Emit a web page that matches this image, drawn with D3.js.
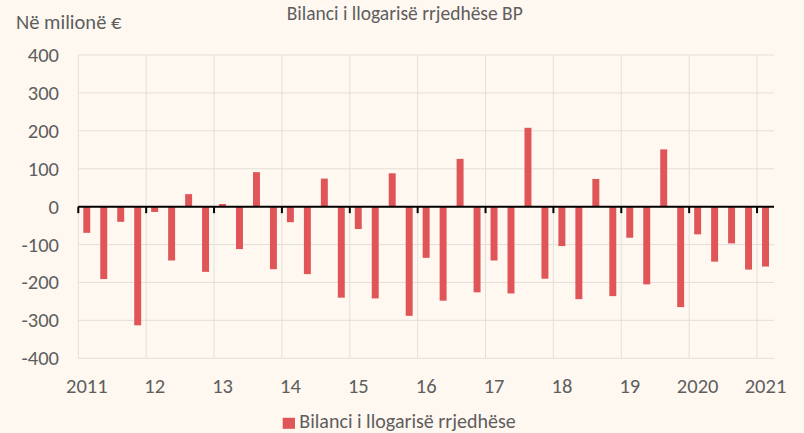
<!DOCTYPE html>
<html>
<head>
<meta charset="utf-8">
<script src="https://cdn.jsdelivr.net/npm/d3@7"></script>
<style>
  html, body { margin: 0; padding: 0; background: #FEF8F1; }
  svg { display: block; }
  text { font-family: Carlito, Lato, "Open Sans", sans-serif; fill: #5E5E5E; }
</style>
</head>
<body>
<svg id="chart" width="804" height="433"></svg>
<script>
// ---- data ----
const years = ["2011","2012","2013","2014","2015","2016","2017","2018","2019","2020","2021"];
const yearLabels = ["2011","12","13","14","15","16","17","18","19","2020","2021"];
const quarters = ["Q1","Q2","Q3","Q4"];
const values = [
  -69, -191, -40, -313,
  -14, -142, 33, -172,
  7, -112, 91, -165,
  -41, -178, 74, -240,
  -59, -242, 88, -288,
  -135, -248, 126, -226,
  -142, -229, 208, -190,
  -104, -244, 73, -236,
  -82, -205, 151, -265,
  -73, -145, -97, -166,
  -158
];
const yTicks = [400, 300, 200, 100, 0, -100, -200, -300, -400];
const titleText = "Bilanci i llogarisë rrjedhëse BP";
const unitText = "Në milionë €";
const seriesName = "Bilanci i llogarisë rrjedhëse";

(function () {
const categories = values.map((v, i) => years[Math.floor(i / 4)] + quarters[i % 4]);
const data = categories.map((c, i) => ({ cat: c, value: values[i] }));

// ---- layout ----
const svg = d3.select("#chart");
const pL = 78.3, pR = 774, pT = 55, pB = 358.3;
const barColor = "#E05557";
const gridColor = "#E3DFDA";
const fs = 20.5;

const x = d3.scaleBand().domain(categories).range([pL, pR])
  .paddingInner(0.59).paddingOuter(0.295);
const y = d3.scaleLinear().domain([-400, 400]).range([pB, pT]);
const gap = (x.step() - x.bandwidth()) / 2;
const boundary = c => x(c) - gap;

const yearStarts = years.map(yr => yr + "Q1");

// horizontal gridlines
svg.append("g").selectAll("line").data(yTicks.filter(t => t !== 0)).join("line")
  .attr("x1", pL).attr("x2", pR)
  .attr("y1", d => y(d)).attr("y2", d => y(d))
  .attr("stroke", gridColor).attr("stroke-width", 1);

// vertical gridlines
svg.append("g").selectAll("line").data(yearStarts).join("line")
  .attr("x1", d => boundary(d)).attr("x2", d => boundary(d))
  .attr("y1", pT).attr("y2", pB)
  .attr("stroke", gridColor).attr("stroke-width", 1);

// bars
svg.append("g").selectAll("rect").data(data).join("rect")
  .attr("x", d => x(d.cat))
  .attr("width", x.bandwidth())
  .attr("y", d => y(Math.max(0, d.value)))
  .attr("height", d => Math.abs(y(d.value) - y(0)))
  .attr("fill", barColor);

// zero axis with ticks
const axisG = svg.append("g").attr("transform", `translate(0,${y(0)})`);
axisG.append("line").attr("x1", pL).attr("x2", pR).attr("y1", 0).attr("y2", 0)
  .attr("stroke", "#000").attr("stroke-width", 2);
axisG.selectAll("line.tick").data(yearStarts).join("line").attr("class", "tick")
  .attr("x1", d => boundary(d)).attr("x2", d => boundary(d))
  .attr("y1", 0).attr("y2", 6.5)
  .attr("stroke", "#000").attr("stroke-width", 2);

// y labels
svg.append("g").selectAll("text").data(yTicks).join("text")
  .attr("x", 59).attr("y", d => y(d) + 7)
  .attr("text-anchor", "end")
  .attr("font-size", fs)
  .text(d => d);

// x (year) labels, centred on the Q1 bar
svg.append("g").selectAll("text").data(yearStarts).join("text")
  .attr("x", d => x(d) + x.bandwidth() / 2).attr("y", 393.3)
  .attr("text-anchor", "middle")
  .attr("font-size", fs)
  .text((d, i) => yearLabels[i]);

// title
svg.append("text").attr("x", 404.7).attr("y", 19.5).attr("text-anchor", "middle")
  .attr("font-size", 19.5).text(titleText);

// unit label
svg.append("text").attr("x", 16).attr("y", 29.3).attr("font-size", fs).text(unitText);

// legend
const lg = svg.append("g");
lg.append("rect").attr("x", 282.7).attr("y", 417.8).attr("width", 12.3).attr("height", 11)
  .attr("fill", barColor);
lg.append("text").attr("x", 299.3).attr("y", 428.3).attr("font-size", 20).text(seriesName);
})();
</script>
</body>
</html>
